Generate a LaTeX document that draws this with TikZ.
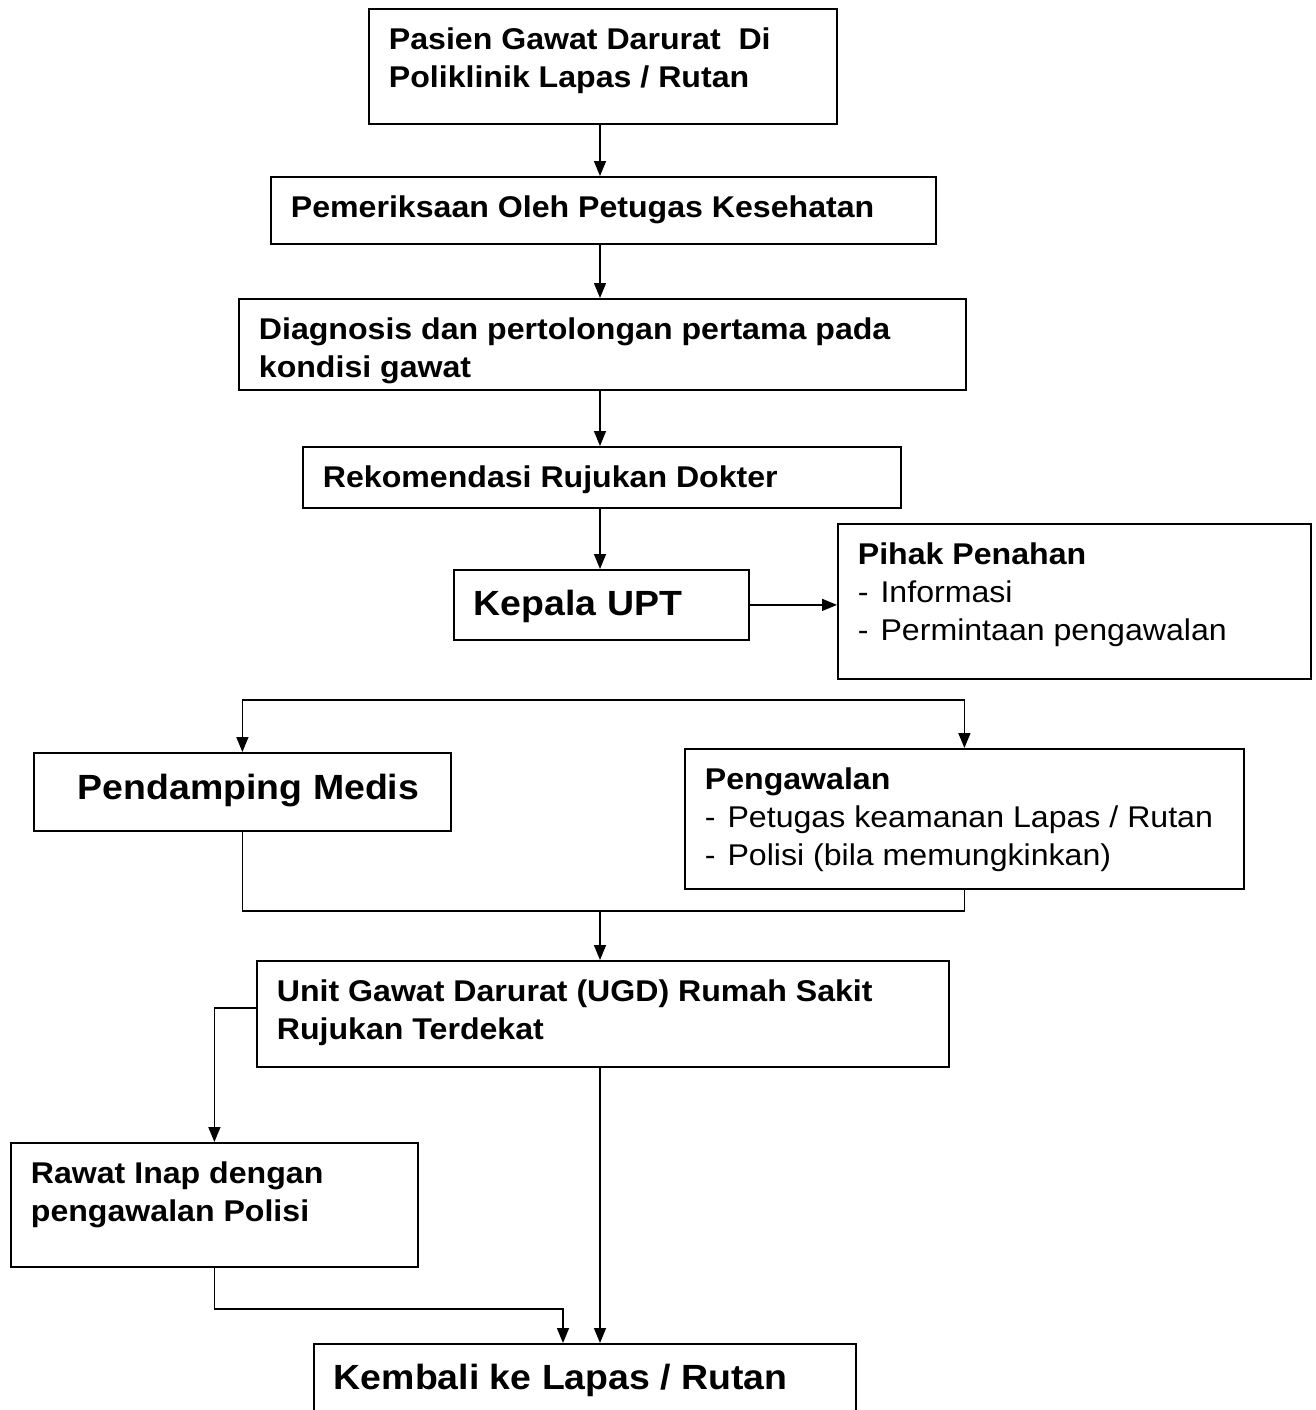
\documentclass[tikz,border=0pt]{standalone}
\usepackage{fontspec}
\setmainfont{Liberation Sans}[FakeStretch=1.07]
\usetikzlibrary{arrows.meta}

% text block inside a box: [top pad]{width}{height}{text}
\newcommand{\boxtext}[4][19pt]{%
  \parbox[t][#3][t]{#2}{\raggedright\leftskip=20pt\vspace*{#1}#4\par}}
\newcommand{\dashitem}{-\hspace{12pt}}

\tikzset{
  flowbox/.style={draw, line width=1.8pt, anchor=north west, inner sep=0pt,
    font=\bfseries\fontsize{30}{38}\selectfont},
  bigbox/.style={flowbox, font=\bfseries\fontsize{35}{42}\selectfont},
  link/.style={line width=1.5pt},
  arr/.style={link, -{Triangle[length=15pt,width=12pt]}}
}

\begin{document}
\begin{tikzpicture}[x=1pt, y=-1pt]
  \useasboundingbox (0,0) rectangle (1315,1410);
  % Main column
  \node[flowbox] (pasien) at (368,8)
    {\boxtext{468pt}{115pt}{Pasien Gawat Darurat\ \ Di\\Poliklinik Lapas / Rutan}};
  \node[flowbox] (periksa) at (270,176)
    {\boxtext{665pt}{67pt}{Pemeriksaan Oleh Petugas Kesehatan}};
  \node[flowbox] (diagnosa) at (238,298)
    {\boxtext{727pt}{91pt}{Diagnosis dan pertolongan pertama pada\\kondisi gawat}};
  \node[flowbox] (rekom) at (302,446)
    {\boxtext{598pt}{61pt}{Rekomendasi Rujukan Dokter}};
  \node[bigbox] (kepala) at (453,569)
    {\boxtext[20pt]{295pt}{70pt}{Kepala UPT}};
  \node[flowbox] (penahan) at (837,523)
    {\boxtext{473pt}{155pt}{Pihak Penahan\\\mdseries \dashitem Informasi\\\dashitem Permintaan pengawalan}};
  % Escort
  \coordinate (split) at (600,700);
  \node[bigbox] (medis) at (33,752)
    {\boxtext[21pt]{417pt}{78pt}{\hspace*{24pt}Pendamping Medis}};
  \node[flowbox] (kawal) at (684,748)
    {\boxtext{559pt}{140pt}{Pengawalan\\\mdseries \dashitem Petugas keamanan Lapas / Rutan\\\dashitem Polisi (bila memungkinkan)}};
  \coordinate (merge) at (600,911);
  % Hospital
  \node[flowbox] (ugd) at (256,960)
    {\boxtext{692pt}{106pt}{Unit Gawat Darurat (UGD) Rumah Sakit\\Rujukan Terdekat}};
  \coordinate (branch) at (213,1008);
  \node[flowbox] (rawat) at (10,1142)
    {\boxtext{407pt}{124pt}{Rawat Inap dengan\\pengawalan Polisi}};
  \coordinate (back) at (563,1309);
  \node[bigbox] (kembali) at (313,1343)
    {\boxtext[20pt]{542pt}{90pt}{Kembali ke Lapas / Rutan}};
  % Arrows
  \draw[arr] (pasien.south -| split) -- (periksa.north -| split);
  \draw[arr] (periksa.south -| split) -- (diagnosa.north -| split);
  \draw[arr] (diagnosa.south -| split) -- (rekom.north -| split);
  \draw[arr] (rekom.south -| split) -- (kepala.north -| split);
  \draw[arr] (kepala.east) -- (kepala.east -| penahan.west);
  \draw[arr] (split) -| (medis.north);
  \draw[arr] (split) -| (kawal.north);
  \draw[link] (medis.south) |- (merge) -| (kawal.south);
  \draw[arr] (merge) -- (merge |- ugd.north);
  \draw[arr] (ugd.west |- branch) -| (rawat.north);
  \draw[arr] (ugd.south -| split) -- (kembali.north -| split);
  \draw[arr] (rawat.south) |- (back) -- (back |- kembali.north);
\end{tikzpicture}
\end{document}
